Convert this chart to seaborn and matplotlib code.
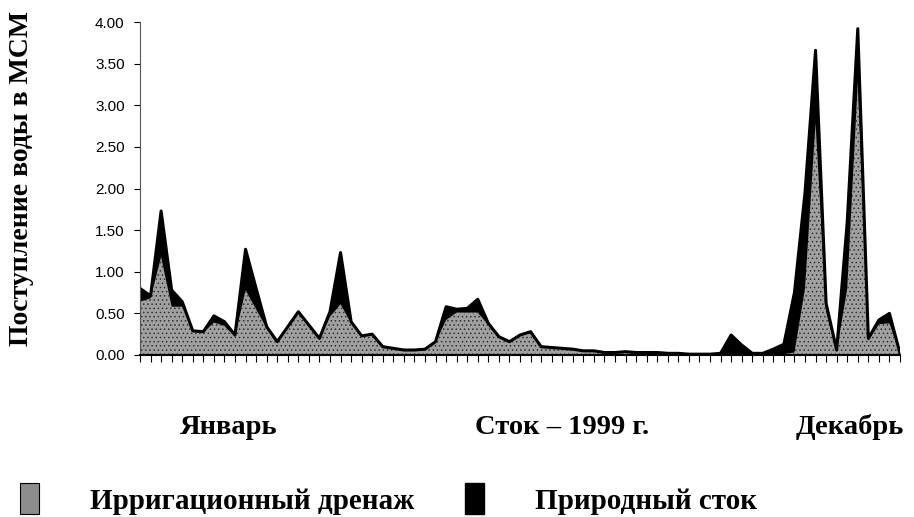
import numpy as np
import pandas as pd
import matplotlib
matplotlib.use("Agg")
import matplotlib.pyplot as plt
from matplotlib.patches import Patch
import seaborn as sns

# pentad totals (top of black) and the grey part
total = [0.80, 0.71, 1.73, 0.78, 0.64, 0.29, 0.28, 0.47, 0.40, 0.24,
         1.27, 0.80, 0.34, 0.16, 0.34, 0.52, 0.36, 0.20, 0.52, 1.23,
         0.40, 0.23, 0.25, 0.10, 0.08, 0.06, 0.06, 0.07, 0.16, 0.58,
         0.55, 0.56, 0.67, 0.38, 0.22, 0.16, 0.24, 0.28, 0.10, 0.09,
         0.08, 0.07, 0.05, 0.05, 0.03, 0.03, 0.04, 0.03, 0.03, 0.03,
         0.02, 0.02, 0.01, 0.01, 0.01, 0.02, 0.24, 0.12, 0.02, 0.02,
         0.07, 0.13, 0.75, 1.95, 3.66, 0.62, 0.06, 1.60, 3.92, 0.20,
         0.42, 0.50, 0.02]
irrigation = [0.64, 0.68, 1.18, 0.58, 0.58, 0.28, 0.27, 0.39, 0.35, 0.22,
              0.78, 0.55, 0.32, 0.15, 0.33, 0.50, 0.35, 0.19, 0.46, 0.61,
              0.38, 0.22, 0.24, 0.09, 0.07, 0.05, 0.05, 0.06, 0.15, 0.42,
              0.51, 0.51, 0.51, 0.36, 0.21, 0.15, 0.23, 0.27, 0.09, 0.08,
              0.07, 0.06, 0.04, 0.04, 0.02, 0.02, 0.03, 0.02, 0.02, 0.02,
              0.01, 0.00, 0.00, 0.00, 0.00, 0.00, 0.00, 0.00, 0.00, 0.00,
              0.00, 0.01, 0.03, 0.80, 2.79, 0.52, 0.04, 0.80, 3.28, 0.17,
              0.37, 0.38, 0.01]
natural = [t - g for t, g in zip(total, irrigation)]

y_ticks = [0.0, 0.5, 1.0, 1.5, 2.0, 2.5, 3.0, 3.5, 4.0]
x_labels = ["Январь", "Сток – 1999 г.", "Декабрь"]
legend_labels = ["Ирригационный дренаж", "Природный сток"]
y_title = "Поступление воды в МСМ"

df = pd.DataFrame({"pentad": np.arange(len(total)),
                   "irrigation": irrigation,
                   "natural": natural})
df["total"] = df["irrigation"] + df["natural"]

sns.set_theme(style="white")
plt.rcParams["hatch.linewidth"] = 0.6
plt.rcParams["text.color"] = "black"
plt.rcParams["ytick.color"] = "black"
plt.rcParams["xtick.color"] = "black"
serif = ["Liberation Serif", "DejaVu Serif"]

fig = plt.figure(figsize=(9.14, 5.17), dpi=100)
ax = fig.add_axes([140 / 914, 1 - 355 / 517, 760 / 914, 333 / 517])

ax.fill_between(df["pentad"], 0, df["total"], color="black", lw=0)
ax.fill_between(df["pentad"], 0, df["irrigation"], facecolor="#a0a0a0",
                edgecolor="#333333", hatch="....", lw=0)
sns.lineplot(data=df, x="pentad", y="total", ax=ax, color="black", lw=2.2)

ax.set_xlim(0, len(total) - 1)
ax.set_ylim(0, 4.0)
ax.set_xticks(df["pentad"])
ax.set_xticklabels([])
ax.set_yticks(y_ticks)
ax.set_yticklabels([f"{v:.2f}" for v in y_ticks],
                   fontfamily="Liberation Sans", fontsize=11)
ax.tick_params(axis="x", direction="out", length=5, width=0.8,
               color="black", bottom=True)
ax.tick_params(axis="y", direction="out", length=4, width=0.8,
               color="black", left=True, pad=7)
ax.set_xlabel("")
ax.set_ylabel("")
for s in ["top", "right"]:
    ax.spines[s].set_visible(False)
ax.spines["left"].set_color("#555555")
ax.spines["left"].set_linewidth(0.8)
ax.spines["bottom"].set_color("black")
ax.spines["bottom"].set_linewidth(1.5)

fig.text(22 / 914, 0.655, y_title, rotation=90, ha="center", va="center",
         fontfamily=serif, fontweight="bold", fontsize=20)

for xc, lab in zip([0.2505, 0.615, 0.930], x_labels):
    fig.text(xc, 0.174, lab, ha="center", va="center",
             fontfamily=serif, fontweight="bold", fontsize=20.5)

handles = [Patch(facecolor="#8c8c8c", edgecolor="black", lw=0.8),
           Patch(facecolor="black", edgecolor="black")]
fig.legend(handles, legend_labels, loc="center left",
           bbox_to_anchor=(20 / 914, 0.035), ncol=2, frameon=False,
           borderpad=0, borderaxespad=0,
           handlelength=0.65, handleheight=1.25, handletextpad=1.75,
           columnspacing=1.75,
           prop={"family": serif, "weight": "bold", "size": 21})

fig.savefig("out.png", dpi=100)
